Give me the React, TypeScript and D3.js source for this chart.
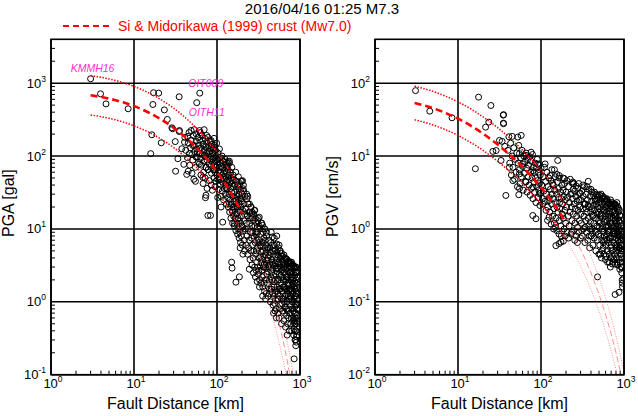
import React from "react";
import * as d3 from "d3";

// ---------- text ----------
const TITLE = "2016/04/16 01:25 M7.3";
const LEGEND = "Si & Midorikawa (1999)  crust (Mw7.0)";
const X_LABEL = "Fault Distance [km]";
const PGA_LABEL = "PGA [gal]";
const PGV_LABEL = "PGV [cm/s]";

// ---------- axes ----------
const X_DOMAIN = [1, 1000];
const X_TICKS = [1, 10, 100, 1000];
const PGA_DOMAIN = [0.1, 4000];
const PGA_TICKS = [0.1, 1, 10, 100, 1000];
const PGV_DOMAIN = [0.01, 400];
const PGV_TICKS = [0.01, 0.1, 1, 10, 100];

// ---------- Si & Midorikawa curves ----------
const CURVE_D = [3, 5, 7, 10, 15, 20, 30, 50, 70, 100, 150, 200];
const EXT_D = [200, 300, 400, 500, 600, 700, 800, 900, 1000];

const PGA_MED = [684, 614, 556, 485, 396, 331, 244, 149, 100, 60.7, 30.2, 16.4];
const PGA_UP = [1274, 1143, 1035, 903, 737, 616, 454, 277, 186, 113, 56.2, 30.5];
const PGA_LO = [367, 330, 299, 260, 213, 178, 131, 80.0, 53.7, 32.6, 16.2, 8.81];
const PGA_MED_EXT = [16.4, 5.64, 2.15, 0.869, 0.365, 0.157, 0.069, 0.031, 0.014];
const PGA_UP_EXT = [30.5, 10.5, 4.0, 1.62, 0.68, 0.292, 0.128, 0.058, 0.026];
const PGA_LO_EXT = [8.81, 3.03, 1.15, 0.467, 0.196, 0.0843, 0.037, 0.0166, 0.0075];

const PGV_MED = [53.5, 45.4, 39.3, 32.6, 25.2, 20.3, 14.4, 8.68, 5.9, 3.73, 2.03, 1.225];
const PGV_UP = [90.8, 77.1, 66.7, 55.4, 42.8, 34.5, 24.5, 14.7, 10.0, 6.33, 3.45, 2.08];
const PGV_LO = [31.5, 26.7, 23.1, 19.2, 14.8, 12.0, 8.48, 5.11, 3.47, 2.2, 1.2, 0.721];
const PGV_MED_EXT = [1.225, 0.523, 0.249, 0.126, 0.0666, 0.0361, 0.02, 0.0112, 0.0063];
const PGV_UP_EXT = [2.08, 0.888, 0.423, 0.214, 0.113, 0.0613, 0.034, 0.019, 0.0107];
const PGV_LO_EXT = [0.721, 0.308, 0.147, 0.0742, 0.0392, 0.0213, 0.0118, 0.0066, 0.0037];

// ---------- station labels ----------
const PGA_STATIONS = [
  { name: "KMMH16", d: 3.0, v: 1150, dx: 2, dy: -11 },
  { name: "OIT009", d: 62, v: 730, dx: 6, dy: -10 },
  { name: "OITH11", d: 57, v: 540, dx: 10, dy: 9.5 },
];

// ---------- observations: [fault distance km, PGA gal] ----------
const PGA_OBS: [number, number][] = [
  [3.0, 1150], [3.95, 715], [4.6, 520], [8.5, 445], [17.2, 740], [19.8, 730], [16.9, 510], [35, 650], [62, 730], [57, 540],
  [23.2, 430], [25.2, 318], [16.4, 196], [21.3, 152], [15.9, 108], [29.2, 237], [31.4, 158], [35.1, 217], [37.7, 126], [31.7, 62],
  [33.8, 92], [39.8, 77], [43.2, 56], [52.6, 48], [72.6, 26.8], [77.6, 15.3], [83.5, 15.3], [195, 44.9], [207, 35.6], [141, 80], [136, 84],
  [28.6, 244], [35.3, 224], [44.5, 186], [48.7, 224], [56, 202], [61.5, 224], [75, 192], [67.5, 164], [84.7, 164], [93, 132],
  [40.6, 155], [51, 140], [61.5, 126], [46.5, 108], [56, 97], [70.5, 102], [88.7, 92], [61.5, 78], [73.6, 70], [93, 64],
  [67.5, 51], [81, 46], [106, 49], [129, 83], [134, 74], [154, 46], [186, 34], [203, 46], [129, 37], [73.6, 29], [102, 27],
  [112, 20], [141, 22], [154, 17], [195, 26], [232, 15.3], [265, 14.5], [323, 14.5], [354, 11.2], [117, 12.4], [162, 11.8],
  [203, 10.6], [308, 10.6], [150, 3.5], [152, 2.9], [169, 1.86], [186, 2.2], [850, 0.165],
  // 40-60 km
  [41, 180], [42, 120], [44, 95], [45, 150], [46, 210], [47, 75], [48, 130], [49, 165], [50, 105], [51, 88], [52, 190], [53, 140],
  [54, 115], [55, 70], [56, 160], [57, 125], [58, 98], [59, 180], [60, 82], [60, 140], [45, 62], [50, 58], [55, 45], [58, 112], [53, 230],
  // 60-80 km
  [61, 110], [62, 165], [63, 92], [64, 130], [65, 75], [66, 190], [67, 105], [68, 145], [69, 60], [70, 120], [70, 85], [71, 175],
  [72, 98], [73, 135], [74, 70], [75, 155], [75, 110], [76, 88], [77, 125], [78, 65], [78, 180], [79, 100], [80, 140], [80, 78],
  [64, 55], [68, 42], [72, 50], [76, 36], [63, 210], [70, 230],
  // 80-100 km
  [81, 115], [82, 90], [83, 160], [84, 72], [85, 130], [85, 100], [86, 58], [87, 145], [88, 82], [89, 110], [90, 65], [90, 125],
  [91, 95], [92, 50], [93, 140], [93, 75], [94, 105], [95, 60], [96, 120], [96, 85], [97, 45], [98, 100], [98, 70], [99, 150],
  [100, 55], [100, 88], [85, 40], [88, 34], [95, 38], [92, 175],
  // 100-130 km
  [101, 75], [102, 48], [103, 110], [104, 62], [105, 90], [105, 35], [106, 70], [107, 125], [108, 52], [109, 80], [110, 40], [110, 95],
  [111, 60], [112, 28], [113, 72], [114, 45], [115, 100], [115, 55], [116, 33], [117, 68], [118, 85], [119, 42], [120, 58], [120, 25],
  [121, 76], [122, 48], [123, 36], [124, 62], [125, 90], [126, 30], [127, 52], [128, 40], [129, 70], [130, 22], [130, 45],
  // 130-170 km
  [131, 60], [132, 35], [133, 80], [134, 27], [135, 48], [136, 65], [137, 20], [138, 40], [139, 55], [140, 30], [141, 85], [142, 17],
  [143, 45], [144, 25], [145, 60], [146, 36], [147, 14], [148, 50], [149, 22], [150, 32], [151, 70], [152, 18], [153, 42], [154, 12],
  [155, 28], [156, 55], [157, 20], [158, 38], [159, 15], [160, 24], [161, 48], [162, 11], [163, 32], [164, 19], [165, 40], [166, 14],
  [167, 26], [168, 60], [169, 9.5], [170, 22],
  // 170-220 km
  [171, 35], [172, 16], [173, 45], [174, 12], [175, 28], [176, 20], [177, 8.5], [178, 38], [179, 14], [180, 25], [181, 52], [182, 10],
  [183, 18], [184, 30], [185, 7.5], [186, 22], [187, 13], [188, 42], [189, 9], [190, 17], [191, 27], [192, 6.5], [193, 12], [194, 35],
  [195, 20], [196, 8], [197, 15], [198, 24], [199, 11], [200, 30], [202, 6], [204, 18], [206, 9.5], [208, 40], [210, 13], [212, 22],
  [214, 7], [216, 16], [218, 28], [220, 10], [205, 4.5], [215, 5], [190, 5.5], [200, 45], [210, 33],
  // 220-300 km
  [222, 19], [224, 6], [226, 12], [228, 30], [230, 8], [232, 15], [234, 4.5], [236, 22], [238, 10], [240, 5.5], [242, 17], [244, 7],
  [246, 22], [248, 12], [250, 3.8], [252, 9], [254, 14], [256, 5], [258, 20], [260, 7.5], [262, 11], [264, 3.2], [266, 16], [268, 6],
  [270, 9], [272, 4], [274, 13], [276, 16], [278, 5], [280, 8], [282, 18], [284, 3], [286, 11], [288, 6.5], [290, 14], [292, 4.5],
  [294, 9], [296, 2.7], [298, 7], [300, 12], [235, 28], [255, 20], [275, 2.5], [290, 2.2], [245, 2.8], [265, 17], [285, 18], [300, 5],
  [230, 26], [250, 17],
  // 300-400 km
  [302, 3.5], [305, 9], [308, 5.5], [311, 13], [314, 2.4], [317, 7], [320, 4], [323, 11], [326, 2], [329, 6], [332, 3], [335, 8.5],
  [338, 1.8], [341, 4.8], [344, 12], [347, 2.7], [350, 6.5], [353, 3.8], [356, 1.6], [359, 9], [362, 5], [365, 2.3], [368, 7.5],
  [371, 3.3], [374, 1.4], [377, 10], [380, 4.4], [383, 2], [386, 6], [389, 2.9], [392, 1.3], [395, 8], [398, 3.7], [400, 5.2],
  [310, 3], [320, 6.5], [330, 10], [340, 3.4], [350, 2.2], [360, 4.2], [370, 1.8], [380, 7], [390, 4.8], [400, 2.4], [315, 14],
  [345, 12], [375, 10], [395, 9], [305, 1.9], [325, 1.6], [355, 1.2], [385, 1.1], [335, 4.2], [365, 3], [320, 2.7], [390, 3.2],
  [340, 5.8], [300, 8.5], [380, 5.5], [360, 6.5],
  // 400-550 km
  [405, 1.8], [410, 4], [415, 2.6], [420, 7], [425, 1.3], [430, 3.3], [435, 5.5], [440, 1], [445, 2.2], [450, 9], [455, 3.8], [460, 1.6],
  [465, 6], [470, 2.8], [475, 0.9], [480, 4.5], [485, 1.9], [490, 7.5], [495, 3.1], [500, 1.3], [505, 5], [510, 2.4], [515, 0.8],
  [520, 3.7], [525, 6.2], [530, 1.6], [535, 2.9], [540, 4.4], [545, 1.1], [550, 2], [410, 1.2], [420, 3], [430, 2], [440, 4.8],
  [450, 1.5], [460, 3.5], [470, 5], [480, 2.3], [490, 1.2], [500, 3.4], [510, 4.2], [520, 1.4], [530, 2.6], [540, 0.7], [550, 5.5],
  [465, 7.8], [490, 6], [525, 8], [545, 3.3], [430, 1.5], [455, 2.5], [485, 1.6], [515, 2.9], [535, 1.9], [415, 3.7], [445, 6.5],
  [475, 3.2], [505, 2], [425, 4.3], [495, 0.95], [520, 0.6], [500, 0.75], [540, 1.3], [410, 5.5], [470, 1.3], [480, 0.7], [510, 1.05],
  [530, 4.8], [550, 1.5], [460, 2],
  // 550-750 km
  [555, 3.5], [560, 0.6], [565, 2.4], [570, 5], [575, 1.2], [580, 3], [585, 0.9], [590, 1.8], [595, 4.2], [600, 0.5], [605, 2.7],
  [610, 1.4], [615, 3.6], [620, 0.75], [625, 2], [630, 1.1], [635, 3.8], [640, 0.55], [645, 2.5], [650, 1.6], [655, 3.2], [660, 0.85],
  [665, 1.9], [670, 0.45], [675, 2.8], [680, 1.25], [685, 3.8], [690, 0.65], [695, 2.2], [700, 1], [705, 3], [710, 0.5], [715, 1.7],
  [720, 2.6], [725, 0.8], [730, 1.4], [735, 3.5], [740, 0.4], [745, 2], [750, 1.1], [560, 6], [580, 5], [600, 4.6], [620, 4.2],
  [640, 4.4], [660, 4], [680, 3.9], [700, 3.8], [720, 3.6], [740, 3.4], [570, 1.5], [590, 2.3], [610, 0.95], [630, 2.9], [650, 0.7],
  [670, 1.5], [690, 2], [710, 1.3], [730, 0.6], [750, 2.5], [575, 4], [615, 2.2], [655, 1.2], [695, 1.5], [735, 1.8], [565, 0.8],
  [605, 1.1], [645, 1], [685, 0.8], [725, 1.2], [600, 3.3], [640, 3], [680, 2.2], [720, 3.3], [585, 1.5], [625, 1.6], [665, 2.4],
  [705, 0.75], [745, 1.5], [700, 0.35],
  // 750-920 km
  [755, 2.8], [760, 0.7], [765, 1.5], [770, 3.5], [775, 0.5], [780, 2], [785, 1.1], [790, 3.5], [795, 0.4], [800, 1.7], [805, 2.6],
  [810, 0.8], [815, 1.3], [820, 3.2], [825, 0.6], [830, 2.1], [835, 1], [840, 0.35], [845, 1.6], [850, 2.9], [855, 0.7], [860, 1.2],
  [865, 2.3], [870, 0.5], [875, 1.8], [880, 0.9], [885, 3], [890, 0.3], [895, 1.4], [900, 2], [905, 0.6], [910, 1.1], [915, 2.5],
  [918, 0.45], [920, 1.6], [760, 3.4], [780, 3.3], [800, 3.2], [820, 3.2], [840, 3.1], [860, 3.0], [880, 2.5], [900, 3.0], [915, 1.3],
  [770, 1.2], [790, 2.2], [810, 1.4], [830, 0.75], [850, 1.1], [870, 1.5], [890, 0.7], [905, 1.5], [912, 0.8], [765, 0.9], [785, 0.6],
  [805, 1], [825, 1.8], [845, 0.55], [865, 0.85], [885, 1.2], [900, 0.4], [910, 0.33], [918, 0.9], [775, 2.6], [795, 1.5], [815, 2],
  [835, 2.5], [855, 1.9], [875, 0.6], [895, 2.6], [908, 1.8], [916, 2.2], [920, 0.55], [850, 0.42], [870, 0.3], [890, 0.25],
  [905, 0.28], [912, 0.5], [880, 0.4], [860, 0.5], [895, 0.95], [918, 0.65], [900, 1.2], [915, 0.35],
];

// ---------- observations: [fault distance km, PGV cm/s] ----------
const PGV_OBS: [number, number][] = [
  [3.08, 79], [4.57, 41.3], [8.47, 33.5], [17.7, 64.3], [24.9, 49.4], [23.5, 29.2], [21.5, 24.9], [35.1, 36.4], [35.3, 28.3],
  [16.2, 6.7], [37.7, 2.88], [54, 2.95], [41, 18.4], [45, 18.6], [26.3, 11.6], [28.8, 11.9], [33, 8.7], [34, 15.9], [159, 8.7],
  [112, 7.8], [79.6, 1.53], [87, 1.38], [371, 4.5], [795, 1.5], [890, 1.55], [120, 1.31], [248, 4.2], [129, 5.4], [155, 5.6],
  [35.4, 37], [35.4, 27.8], [57.7, 19.2], [52.5, 18.2], [31.6, 16.4], [36.6, 13.6], [55, 10.8], [66, 10.2], [76, 11.3], [60, 7.8],
  [80, 6.3], [91.5, 7.8], [55, 5.7], [41.6, 7.0], [45.8, 4.6], [66, 4.4], [80, 3.75], [95.5, 3.05], [55, 3.6], [105, 2.2], [125, 2.45],
  [138, 4.2], [166, 5.4], [191, 4.9], [240, 4.2], [240, 3.05], [290, 3.05], [340, 2.2],
  [151, 0.59], [165, 0.63], [186, 0.68], [174, 0.66], [132, 1.17], [142, 1.0], [480, 0.22],
  [782, 0.126], [871, 0.135], [955, 0.18], [990, 0.21],
  // 40-70 km
  [40, 12], [42, 8], [43, 15], [44, 5.5], [45, 10], [46, 7], [47, 13], [48, 4.8], [49, 9], [50, 6], [51, 11], [52, 3.8], [53, 8],
  [54, 14], [55, 6.5], [56, 4.2], [57, 9.5], [58, 5.2], [59, 12], [60, 7.2], [61, 3.4], [62, 10], [63, 5.8], [64, 8.2], [65, 4.5],
  [66, 11], [67, 6.8], [68, 3.2], [69, 9], [70, 5.2],
  // 70-110 km
  [71, 7.5], [72, 4], [73, 9.8], [74, 2.9], [75, 6], [76, 8.5], [77, 3.6], [78, 5], [79, 10.5], [80, 2.6], [81, 7], [82, 4.4],
  [83, 6], [84, 3.2], [85, 8], [86, 5], [87, 2.3], [88, 6.8], [89, 3.8], [90, 9], [91, 4.6], [92, 2.7], [93, 6], [94, 3.4],
  [95, 7.5], [96, 4.2], [97, 2.1], [98, 5.5], [99, 3.1], [100, 6.8], [102, 4], [104, 2.6], [106, 5.2], [108, 3.3], [110, 7],
  // 110-180 km
  [112, 2.4], [114, 4.5], [116, 3], [118, 6], [120, 2], [122, 3.8], [124, 5], [126, 2.7], [128, 1.7], [130, 3.5], [132, 4.6],
  [134, 2.2], [136, 3], [138, 1.5], [140, 4], [142, 2.6], [144, 1.9], [146, 3.4], [148, 5.2], [150, 2.3], [152, 1.4], [154, 3],
  [156, 2], [158, 4.4], [160, 1.7], [162, 2.7], [164, 3.6], [166, 1.3], [168, 2.3], [170, 1.9], [172, 3.2], [174, 1.1], [176, 2.6],
  [178, 4], [180, 1.6], [115, 1.8], [125, 1.45], [135, 6.5], [145, 1.2], [155, 0.95], [165, 0.85], [175, 0.8], [145, 6.5], [165, 5],
  [150, 1.05],
  // 180-300 km
  [182, 2.2], [184, 3.4], [186, 1.4], [188, 2.8], [190, 1], [192, 4.2], [194, 1.8], [196, 2.5], [198, 1.2], [200, 3.2], [203, 2],
  [206, 0.9], [209, 2.7], [212, 1.5], [215, 3.8], [218, 1.1], [221, 2.3], [224, 1.7], [227, 3], [230, 0.85], [233, 2], [236, 1.3],
  [239, 2.6], [242, 4.4], [245, 1.6], [248, 0.95], [251, 2.2], [254, 3.3], [257, 1.2], [260, 1.9], [263, 2.8], [266, 0.8],
  [269, 1.5], [272, 2.4], [275, 1.05], [278, 3.6], [281, 1.8], [284, 0.9], [287, 2.5], [290, 1.3], [293, 2], [296, 3.1],
  [299, 0.75], [185, 5], [205, 4.6], [225, 4.8], [245, 3.5], [265, 3.9], [285, 4.2], [195, 0.8], [215, 0.75], [235, 0.9],
  [255, 0.7], [275, 0.65], [300, 1.6],
  // 300-500 km
  [302, 2.5], [306, 1.2], [310, 3.3], [314, 0.8], [318, 1.9], [322, 2.8], [326, 1], [330, 1.5], [334, 3.8], [338, 0.65], [342, 2.2],
  [346, 1.3], [350, 3], [354, 0.9], [358, 1.7], [362, 2.5], [366, 0.7], [370, 1.4], [374, 3.5], [378, 1.1], [382, 2], [386, 0.55],
  [390, 2.8], [394, 1.25], [398, 1.7], [402, 0.8], [406, 2.4], [410, 3.2], [414, 1], [418, 1.5], [422, 0.6], [426, 2.1], [430, 2.9],
  [434, 1.2], [438, 0.75], [442, 1.8], [446, 2.6], [450, 0.95], [454, 1.4], [458, 0.5], [462, 2.2], [466, 3], [470, 1.1], [474, 1.6],
  [478, 0.7], [482, 2], [486, 2.7], [490, 0.85], [494, 1.3], [498, 0.45], [310, 0.95], [330, 2.2], [350, 1.9], [370, 2.1], [390, 1],
  [410, 1.9], [430, 1.55], [450, 2.4], [470, 2.5], [490, 1.7], [320, 4], [360, 3.8], [400, 3.5], [440, 3.2], [480, 2.9], [340, 1.05],
  [380, 0.8], [420, 0.85], [460, 0.9],
  // 500-700 km
  [505, 1.9], [510, 0.6], [515, 1.2], [520, 2.5], [525, 0.8], [530, 1.6], [535, 0.4], [540, 2.2], [545, 1], [550, 1.4], [555, 2.8],
  [560, 0.55], [565, 1.8], [570, 0.9], [575, 1.25], [580, 2.4], [585, 0.7], [590, 1.5], [595, 0.38], [600, 2], [605, 1.05],
  [610, 0.6], [615, 1.7], [620, 2.6], [625, 0.85], [630, 1.3], [635, 0.5], [640, 2.1], [645, 1.1], [650, 0.65], [655, 1.6],
  [660, 2.3], [665, 0.45], [670, 0.95], [675, 1.4], [680, 0.75], [685, 1.9], [690, 0.55], [695, 1.2], [700, 2.1], [510, 2.9],
  [530, 3], [550, 2.6], [570, 2.7], [590, 2.6], [610, 2.4], [630, 2.5], [650, 2.2], [670, 2.2], [690, 2.5], [520, 1.5], [540, 0.7],
  [560, 1.1], [580, 0.8], [600, 1.35], [620, 0.7], [640, 0.95], [660, 0.75], [680, 1.2], [700, 0.6], [515, 0.45], [545, 0.5],
  [575, 0.45], [605, 0.42], [635, 0.35], [665, 0.35], [695, 0.4], [525, 2], [555, 1.9], [585, 1.8], [615, 1.05], [645, 1.5],
  [675, 1.75], [505, 1.05], [565, 0.65], [625, 1.9], [655, 0.9], [685, 0.3], [500, 2.3],
  // 700-960 km
  [705, 1.5], [710, 0.8], [715, 2], [720, 0.5], [725, 1.2], [730, 1.7], [735, 0.35], [740, 0.95], [745, 1.4], [750, 2.2], [755, 0.65],
  [760, 1.1], [765, 1.8], [770, 0.45], [775, 0.85], [780, 1.3], [785, 2], [790, 0.6], [795, 1], [800, 1.6], [805, 0.4], [810, 0.75],
  [815, 1.2], [820, 1.9], [825, 0.55], [830, 0.9], [835, 1.4], [840, 0.32], [845, 0.7], [850, 1.1], [855, 1.7], [860, 0.5],
  [865, 0.85], [870, 1.3], [875, 0.38], [880, 0.65], [885, 1], [890, 0.28], [895, 0.55], [900, 0.8], [905, 1.2], [910, 0.45],
  [915, 0.7], [920, 0.95], [925, 0.3], [930, 0.6], [935, 0.85], [940, 0.4], [945, 0.6], [950, 0.75], [720, 2.3], [740, 2.2],
  [760, 2.1], [780, 2.2], [800, 2.1], [820, 2.3], [840, 2], [860, 1.9], [880, 1.8], [900, 1.5], [710, 1.1], [730, 0.75], [750, 0.9],
  [770, 1.5], [790, 1.3], [810, 1], [830, 0.6], [850, 0.8], [870, 0.55], [890, 0.75], [910, 0.6], [930, 0.45], [945, 0.35],
  [725, 0.42], [760, 0.38], [800, 0.5], [840, 0.9], [880, 1.25], [920, 0.5], [940, 0.25], [950, 0.3], [955, 0.5], [780, 0.33],
  [820, 0.35], [870, 0.95], [925, 1.1], [900, 0.35], [725, 0.33], [950, 0.2], [960, 0.16],
];

// ---------- layout ----------
const W = 638;
const H = 416;
const TOP = 39.3;
const BOTTOM = 374.7;
const Y_LABEL_START = 237;
const FONT = "'Liberation Sans', Arial, Helvetica, sans-serif";
const RED = "#ff0000";

type Station = { name: string; d: number; v: number; dx: number; dy: number };

function zip(xs: number[], ys: number[]): [number, number][] {
  return xs.map((x, i) => [x, ys[i]] as [number, number]);
}

function minorTicks(domain: number[]): number[] {
  const out: number[] = [];
  const k0 = Math.floor(Math.log10(domain[0]));
  const k1 = Math.ceil(Math.log10(domain[1]));
  for (let k = k0; k <= k1; k++) {
    for (let m = 2; m <= 9; m++) {
      const v = m * Math.pow(10, k);
      if (v > domain[0] * 1.0001 && v < domain[1] * 0.9999) out.push(v);
    }
  }
  return out;
}

function expOf(t: number): string {
  const e = Math.round(Math.log10(t));
  return e < 0 ? "-" + Math.abs(e) : String(e);
}

function Panel(props: {
  id: string;
  x0: number;
  x1: number;
  yDomain: number[];
  yTicks: number[];
  obs: [number, number][];
  med: number[];
  up: number[];
  lo: number[];
  medExt: number[];
  upExt: number[];
  loExt: number[];
  yLabel: string;
  yLabelX: number;
  stations: Station[];
}) {
  const { id, x0, x1, yDomain, yTicks, obs, yLabel, yLabelX, stations } = props;
  const x = d3.scaleLog().domain(X_DOMAIN).range([x0, x1]);
  const y = d3.scaleLog().domain(yDomain).range([BOTTOM, TOP]);
  const line = d3
    .line<[number, number]>()
    .x((d) => x(d[0]))
    .y((d) => y(d[1]))
    .curve(d3.curveMonotoneX);

  const xMinor = minorTicks(X_DOMAIN);
  const yMinor = minorTicks(yDomain);
  const cx = (x0 + x1) / 2;

  return (
    <g>
      <defs>
        <clipPath id={id}>
          <rect x={x0} y={TOP} width={x1 - x0} height={BOTTOM - TOP} />
        </clipPath>
      </defs>
      <rect x={x0} y={TOP} width={x1 - x0} height={BOTTOM - TOP} fill="#fff" />
      {/* grid */}
      {X_TICKS.map((t) => (
        <line key={"gx" + t} x1={x(t)} x2={x(t)} y1={TOP} y2={BOTTOM} stroke="#000" strokeWidth={1.6} />
      ))}
      {yTicks.map((t) => (
        <line key={"gy" + t} x1={x0} x2={x1} y1={y(t)} y2={y(t)} stroke="#000" strokeWidth={1.6} />
      ))}
      {/* minor ticks */}
      {xMinor.map((t) => (
        <line key={"mx" + t} x1={x(t)} x2={x(t)} y1={BOTTOM} y2={BOTTOM - 4} stroke="#000" strokeWidth={1} />
      ))}
      {yMinor.map((t) => (
        <line key={"my" + t} x1={x0} x2={x0 + 4} y1={y(t)} y2={y(t)} stroke="#000" strokeWidth={1} />
      ))}
      {/* observations */}
      <g clipPath={`url(#${id})`}>
        {obs.map((d, i) => (
          <circle key={i} cx={x(d[0])} cy={y(d[1])} r={3} fill="none" stroke="#000" strokeWidth={1} />
        ))}
      </g>
      {/* attenuation curves */}
      <g clipPath={`url(#${id})`} fill="none">
        <path d={line(zip(EXT_D, props.medExt)) || ""} stroke="#ff6a6a" strokeWidth={1} strokeDasharray="6,3" opacity={0.75} />
        <path d={line(zip(EXT_D, props.upExt)) || ""} stroke="#ff6a6a" strokeWidth={1} strokeDasharray="1,1.5" opacity={0.75} />
        <path d={line(zip(EXT_D, props.loExt)) || ""} stroke="#ff6a6a" strokeWidth={1} strokeDasharray="1,1.5" opacity={0.75} />
        <path d={line(zip(CURVE_D, props.up)) || ""} stroke={RED} strokeWidth={1.5} strokeDasharray="1.5,1.5" />
        <path d={line(zip(CURVE_D, props.lo)) || ""} stroke={RED} strokeWidth={1.5} strokeDasharray="1.5,1.5" />
        <path d={line(zip(CURVE_D, props.med)) || ""} stroke={RED} strokeWidth={2.6} strokeDasharray="7,4" />
      </g>
      {/* station labels */}
      {stations.map((s) => (
        <text
          key={s.name}
          x={x(s.d) + s.dx}
          y={y(s.v) + s.dy}
          textAnchor="middle"
          dominantBaseline="central"
          fontSize={10.5}
          fontStyle="italic"
          fill="#ff2bd0"
          fontFamily={FONT}
        >
          {s.name}
        </text>
      ))}
      {/* frame */}
      <rect x={x0} y={TOP} width={x1 - x0} height={BOTTOM - TOP} fill="none" stroke="#000" strokeWidth={1.6} />
      {/* tick labels */}
      {X_TICKS.map((t) => (
        <text key={"tx" + t} x={x(t) + 2} y={BOTTOM + 13.5} textAnchor="middle" fontSize={13} fontFamily={FONT} fill="#000">
          10
          <tspan dy={-6} fontSize={8.5}>
            {expOf(t)}
          </tspan>
        </text>
      ))}
      {yTicks.map((t) => (
        <text key={"ty" + t} x={x0 - 5} y={y(t) + 4.5} textAnchor="end" fontSize={13} fontFamily={FONT} fill="#000">
          10
          <tspan dy={-6} fontSize={8.5}>
            {expOf(t)}
          </tspan>
        </text>
      ))}
      {/* axis titles */}
      <text x={cx} y={BOTTOM + 34.5} textAnchor="middle" fontSize={16} fontFamily={FONT} fill="#000">
        {X_LABEL}
      </text>
      <text
        transform={`translate(${yLabelX},${Y_LABEL_START}) rotate(-90)`}
        textAnchor="start"
        fontSize={16}
        fontFamily={FONT}
        fill="#000"
      >
        {yLabel}
      </text>
    </g>
  );
}

export default function App() {
  return (
    <svg
      width={W}
      height={H}
      viewBox={`0 0 ${W} ${H}`}
      style={{ position: "absolute", left: 0, top: 0, background: "#fff" }}
    >
      <rect x={0} y={0} width={W} height={H} fill="#fff" />
      <text x={322} y={14} textAnchor="middle" fontSize={15} fontFamily={FONT} fill="#000">
        {TITLE}
      </text>
      <line x1={63} x2={110} y1={26} y2={26} stroke={RED} strokeWidth={2.2} strokeDasharray="6,4" />
      <text x={118} y={31} fontSize={14} fontFamily={FONT} fill={RED}>
        {LEGEND}
      </text>
      <Panel
        id="clipPga"
        x0={51}
        x1={300}
        yDomain={PGA_DOMAIN}
        yTicks={PGA_TICKS}
        obs={PGA_OBS}
        med={PGA_MED}
        up={PGA_UP}
        lo={PGA_LO}
        medExt={PGA_MED_EXT}
        upExt={PGA_UP_EXT}
        loExt={PGA_LO_EXT}
        yLabel={PGA_LABEL}
        yLabelX={13.5}
        stations={PGA_STATIONS}
      />
      <Panel
        id="clipPgv"
        x0={375}
        x1={624}
        yDomain={PGV_DOMAIN}
        yTicks={PGV_TICKS}
        obs={PGV_OBS}
        med={PGV_MED}
        up={PGV_UP}
        lo={PGV_LO}
        medExt={PGV_MED_EXT}
        upExt={PGV_UP_EXT}
        loExt={PGV_LO_EXT}
        yLabel={PGV_LABEL}
        yLabelX={337.5}
        stations={[]}
      />
    </svg>
  );
}
